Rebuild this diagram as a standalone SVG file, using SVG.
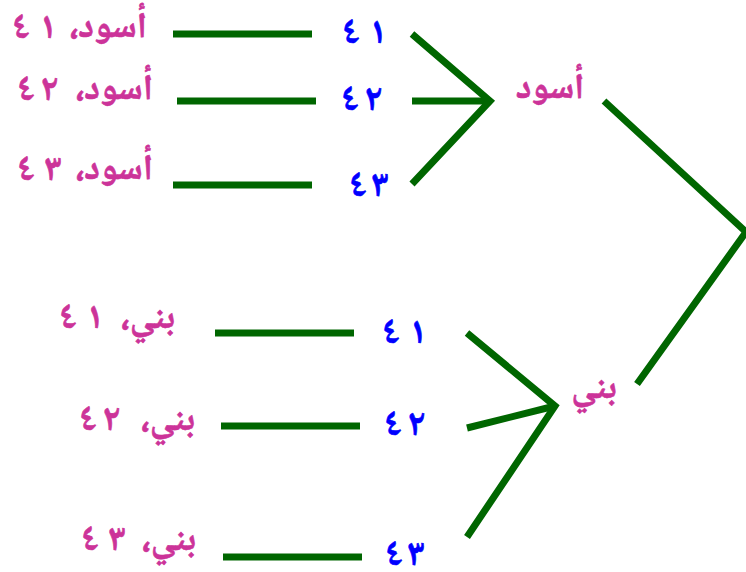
<svg xmlns="http://www.w3.org/2000/svg" width="746" height="572" viewBox="0 0 746 572">
<style>
.ln{stroke:#006600;stroke-width:7;fill:none}
.pk{fill:#CC3399;stroke:#CC3399;stroke-width:0.6px;font-family:"Noto Naskh Arabic","Noto Sans Arabic","DejaVu Sans",sans-serif;font-weight:bold;font-size:36px;direction:rtl;text-anchor:start}
.pd{fill:#CC3399;stroke:#CC3399;stroke-width:0.6px;font-family:"Noto Naskh Arabic","DejaVu Sans",sans-serif;font-weight:bold;font-size:37px;text-anchor:start}
.bl{fill:#0000FF;stroke:#0000FF;stroke-width:0.6px;font-family:"Noto Naskh Arabic","DejaVu Sans",sans-serif;font-weight:bold;font-size:37px;text-anchor:start}
.c{text-anchor:middle}
</style>
<rect width="746" height="572" fill="#fff"/>
<g id="connectors">
<line class="ln" x1="173" y1="34" x2="312" y2="34"/>
<line class="ln" x1="177" y1="101" x2="316" y2="101"/>
<line class="ln" x1="173" y1="185" x2="312" y2="185"/>
<polyline class="ln" points="412,34 490,101 412,184"/>
<line class="ln" x1="412" y1="101" x2="490" y2="101"/>
<polyline class="ln" points="604,101 746,232 637,384"/>
<line class="ln" x1="215" y1="333" x2="354" y2="333"/>
<line class="ln" x1="221" y1="426" x2="360" y2="426"/>
<line class="ln" x1="223" y1="557" x2="362" y2="557"/>
<polyline class="ln" points="467,333 555,406 467,537"/>
<line class="ln" x1="467" y1="428" x2="555" y2="406"/>
</g>
<g id="n-aswad41"><text class="pk" x="147" y="37">أسود،</text><text class="pd" x="12" y="38">٤<tspan dx="9">١</tspan></text></g>
<g id="n-aswad42"><text class="pk" x="153" y="99">أسود،</text><text class="pd" x="17" y="100">٤<tspan dx="6">٢</tspan></text></g>
<g id="n-aswad43"><text class="pk" x="153" y="179">أسود،</text><text class="pd" x="17" y="180">٤<tspan dx="9">٣</tspan></text></g>
<g id="n-b41"><text class="bl" x="342" y="43">٤<tspan dx="9">١</tspan></text></g>
<g id="n-b42"><text class="bl" x="341" y="110">٤<tspan dx="6">٢</tspan></text></g>
<g id="n-b43"><text class="bl" x="349" y="196">٤<tspan dx="4">٣</tspan></text></g>
<g id="n-aswad"><text class="pk c" x="550" y="98">أسود</text></g>
<g id="n-bunni"><text class="pk c" x="594" y="398">بني</text></g>
<g id="n-bunni41"><text class="pk" x="175" y="328">بني،</text><text class="pd" x="59" y="328">٤<tspan dx="9">١</tspan></text></g>
<g id="n-bunni42"><text class="pk" x="195" y="430">بني،</text><text class="pd" x="79" y="430">٤<tspan dx="6">٢</tspan></text></g>
<g id="n-bunni43"><text class="pk" x="196" y="550">بني،</text><text class="pd" x="81" y="550">٤<tspan dx="9">٣</tspan></text></g>
<g id="n-c41"><text class="bl" x="382" y="343">٤<tspan dx="9">١</tspan></text></g>
<g id="n-c42"><text class="bl" x="384" y="435">٤<tspan dx="6">٢</tspan></text></g>
<g id="n-c43"><text class="bl" x="385" y="565">٤<tspan dx="4">٣</tspan></text></g>
</svg>
